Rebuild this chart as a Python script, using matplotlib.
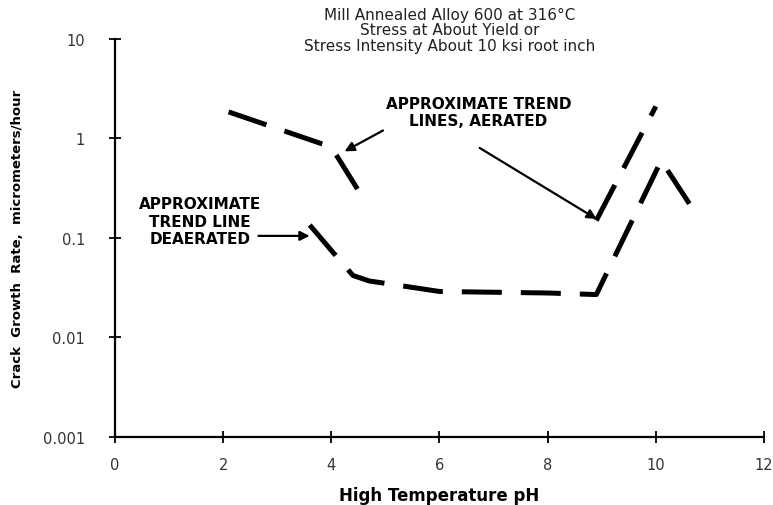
import matplotlib
matplotlib.use("Agg")
import matplotlib.pyplot as plt

# aerated trend lines
aer_low_ph = [2.1, 4.0, 4.5]
aer_low_rate = [1.85, 0.82, 0.3]
aer_high_ph = [8.9, 10.0]
aer_high_rate = [0.15, 2.1]

# deaerated trend line
dea_ph = [3.6, 4.0, 4.4, 4.7, 6.0, 8.0, 8.9, 10.1, 10.7]
dea_rate = [0.135, 0.075, 0.042, 0.037, 0.029, 0.028, 0.027, 0.6, 0.19]

xticks = [0, 2, 4, 6, 8, 10, 12]
yticks = [0.001, 0.01, 0.1, 1, 10]
ytick_labels = ['0.001', '0.01', '0.1', '1', '10']

plt.rcParams['font.family'] = ['DejaVu Sans']

fig = plt.figure(figsize=(7.73, 5.06), dpi=100)
ax = fig.add_axes([0.1488, 0.1344, 0.8395, 0.7866])

dash = dict(color='black', linewidth=3.6, linestyle=(0, (8, 3.8)), dash_capstyle='butt')
ax.plot(aer_low_ph, aer_low_rate, **dash)
ax.plot(aer_high_ph, aer_high_rate, **dash)
ax.plot(dea_ph, dea_rate, **dash)

ax.set_yscale('log')
ax.set_xlim(0, 12)
ax.set_ylim(0.001, 10)
ax.set_xticks(xticks)
ax.set_xticklabels([str(t) for t in xticks])
ax.set_yticks(yticks)
ax.set_yticklabels(ytick_labels)
ax.minorticks_off()
ax.tick_params(direction='inout', length=9, width=1.3, labelsize=10.5, colors='black',
               labelcolor='#333333')
ax.tick_params(axis='y', pad=17)
ax.tick_params(axis='x', pad=10)

for s in ['top', 'right']:
    ax.spines[s].set_visible(False)
for s in ['left', 'bottom']:
    ax.spines[s].set_linewidth(1.6)

ax.set_xlabel('High Temperature pH', fontsize=12, fontweight='bold', labelpad=10)
ax.set_ylabel('Crack  Growth  Rate,  micrometers/hour', fontsize=9.5, fontweight='bold',
              labelpad=14)

fig.text(0.582, 0.985, 'Mill Annealed Alloy 600 at 316°C\nStress at About Yield or\n'
         'Stress Intensity About 10 ksi root inch', ha='center', va='top', fontsize=11,
         linespacing=1.05, color='#222222')

ax.text(6.72, 1.85, 'APPROXIMATE TREND\nLINES, AERATED', ha='center', va='center',
        fontsize=11, fontweight='bold', linespacing=1.2)
ax.text(1.57, 0.148, 'APPROXIMATE\nTREND LINE\nDEAERATED', ha='center', va='center',
        fontsize=11, fontweight='bold', linespacing=1.2)

arrow = dict(arrowstyle='-|>', color='black', lw=1.6, mutation_scale=14)
ax.annotate('', xy=(4.2, 0.72), xytext=(5.0, 1.24), arrowprops=arrow)
ax.annotate('', xy=(8.95, 0.15), xytext=(6.7, 0.83), arrowprops=arrow)
ax.annotate('', xy=(3.65, 0.105), xytext=(2.6, 0.105), arrowprops=arrow)

fig.savefig('out.png', dpi=100)
